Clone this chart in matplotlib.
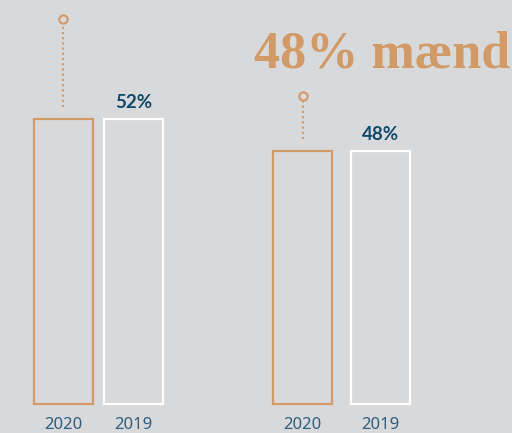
import numpy as np
import matplotlib.pyplot as plt

# data
years = ["2020", "2019"]
values = [[52, 52], [48, 48]]          # 2020 bars have no label, same height as 2019
labels = ["52%", "48%"]
marker_tops = [64.5, 54.9]             # hollow circle on the dotted line above 2020 bar
title = "48% mænd"

bg = "#d8d9db"
orange = "#d19a66"
blue = "#0f4868"
tick_blue = "#2f5e7c"

base = 16.4

fig = plt.figure(figsize=(5.12, 4.33), dpi=100, facecolor=bg)
ax = fig.add_axes([0, 0, 1, 1])
ax.set_facecolor(bg)
ax.set_xlim(-0.405, 1.702)
ax.set_ylim(12.8, 66.9)
ax.axis("off")

width = 0.243
offsets = [[-0.144, 0.144], [-0.16, 0.16]]
edge_cols = [orange, "white"]

for g in range(len(values)):
    for k in range(2):
        x = g + offsets[g][k]
        ax.bar(x, values[g][k] - base, bottom=base, width=width,
               facecolor="none", edgecolor=edge_cols[k], linewidth=1.6)
        ax.text(x, base - 1.6, years[k], ha="center", va="top",
                fontsize=12, color=tick_blue, family="Noto Sans")
    # value label above 2019 bar
    x19 = g + offsets[g][1]
    ax.text(x19, values[g][1] + 1.0, labels[g], ha="center", va="bottom",
            fontsize=13.5, fontweight="bold", color=blue, family="Lato")
    # dotted line with circle above 2020 bar
    x20 = g + offsets[g][0]
    ax.plot([x20, x20], [values[g][0] + 1.5, marker_tops[g] - 0.6],
            color=orange, linestyle=(0, (1, 1.5)), linewidth=1.5)
    ax.plot(x20, marker_tops[g], marker="o", markersize=6, markerfacecolor="none",
            markeredgecolor=orange, markeredgewidth=1.5)

fig.text(0.496, 0.843, title, ha="left", va="baseline", fontsize=37.5,
         fontweight="bold", color=orange, family="Liberation Serif")

fig.savefig("out.png", dpi=100, facecolor=bg)
